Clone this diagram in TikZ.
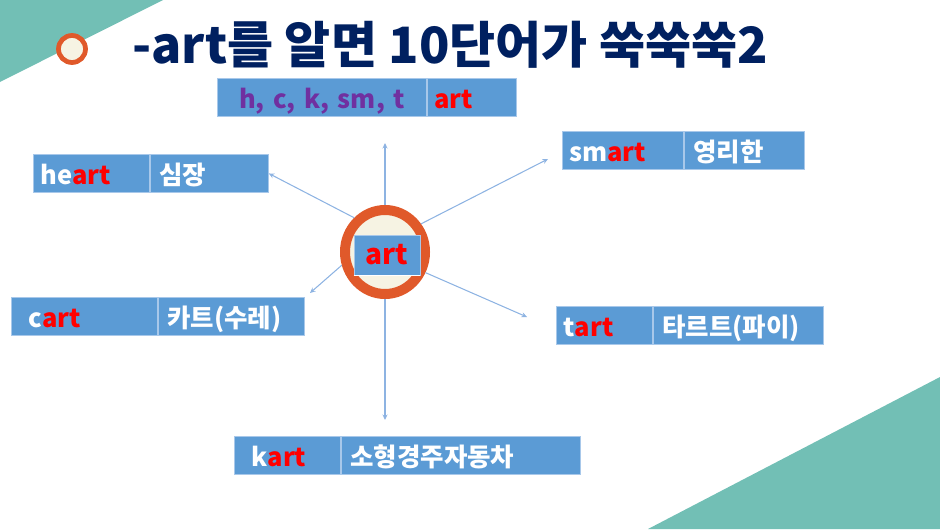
\documentclass[tikz,border=0pt]{standalone}
\usepackage{fontspec}
\setmainfont{Noto Sans CJK KR}
\usetikzlibrary{positioning,shapes.geometric,arrows.meta}

\definecolor{boxblue}{HTML}{5B9BD5}
\definecolor{boxedge}{HTML}{A8C8EA}
\definecolor{linkblue}{HTML}{8DB3E2}
\definecolor{artred}{HTML}{FF0000}
\definecolor{prefixpurple}{HTML}{7030A0}
\definecolor{titlenavy}{HTML}{002060}
\definecolor{ringorange}{HTML}{E0592A}
\definecolor{cream}{HTML}{F6F3E3}
\definecolor{cornerteal}{HTML}{72BFB5}

\tikzset{
  cell/.style={fill=boxblue, draw=boxedge, line width=0.5pt, anchor=north west,
    minimum height=7.6mm, inner ysep=0pt, text height=15pt, text depth=2pt,
    align=left, text=white, font=\bfseries\fontsize{14.5}{14.5}\selectfont},
  link/.style={draw=linkblue, line width=0.6pt, ->},
}

\begin{document}
\begin{tikzpicture}[x=0.2mm, y=-0.2mm, >={Stealth[length=1.1mm, width=1mm]}]
\useasboundingbox (0,0) rectangle (940,529);

% corner triangles
\fill[cornerteal] (0,0) -- (163,0) -- (0,82) -- cycle;
\fill[cornerteal] (940,377) -- (940,529) -- (648,529) -- cycle;

% title
\node[circle, draw=ringorange, line width=0.95mm, fill=cream, minimum size=5.4mm, inner sep=0pt] (dot) at (72,49) {};
\node[anchor=base west, inner sep=0pt, text=titlenavy, font=\bfseries\fontsize{28.5}{28.5}\selectfont] (title) at (132,64) {-art를 알면 10단어가 쑥쑥쑥2};

% prefix box
\node[cell, inner xsep=0pt, text width=41.8mm, align=center, text=prefixpurple] (prefix) at (217,78) {h, c, k, sm, t};
\node[cell, inner xsep=1.4mm, text width=15mm, text=artred, right=0pt of prefix] (suffix) {art};

% centre
\node[ellipse, draw=ringorange, line width=2mm, fill=cream, minimum width=16mm, minimum height=16.8mm, inner sep=0pt] (hub) at (385,252) {};
\node[fill=boxblue, draw=boxedge, line width=0.5pt, minimum width=13.2mm, minimum height=8mm, text=artred, font=\bfseries\fontsize{16}{16}\selectfont] (artbox) at (387,255) {art};
\draw[white, line width=1pt] (artbox.south west) -- (artbox.south east);

% word boxes
\foreach \n/\pre/\ko/\x/\y/\wl/\wr/\p in {heart/he/심장/33/154/23.2/23.6/1.4,
    cart/c/카트(수레)/11/297/29.2/29.2/3.4, smart/sm/영리한/562/131/24.2/24/1.4,
    tart/t/타르트(파이)/556/306/19.2/34/1.4, kart/k/소형경주자동차/234/436/21.2/47.8/3.4} {
  \pgfmathsetmacro{\lw}{\wl-2*\p}
  \pgfmathsetmacro{\rw}{\wr-3.6}
  \node[cell, inner xsep=\p mm, text width=\lw mm] (\n) at (\x,\y) {\pre\textcolor{artred}{art}};
  \node[cell, inner xsep=1.8mm, text width=\rw mm, right=0pt of \n] (\n-ko) {\ko};
}

% links
\coordinate (up-end) at (385,143);
\coordinate (cart-end) at (310,293);
\coordinate (smart-end) at (548,159);
\coordinate (tart-end) at (527,317);
\coordinate (kart-end) at (385,420);
\draw[link] (hub.north) -- (up-end);
\draw[link] (hub.132) -- (heart-ko.east);
\draw[link] (hub.197) -- (cart-end);
\draw[link] (hub.38) -- (smart-end);
\draw[link] (hub.-27) -- (tart-end);
\draw[link] (hub.south) -- (kart-end);
\end{tikzpicture}
\end{document}
